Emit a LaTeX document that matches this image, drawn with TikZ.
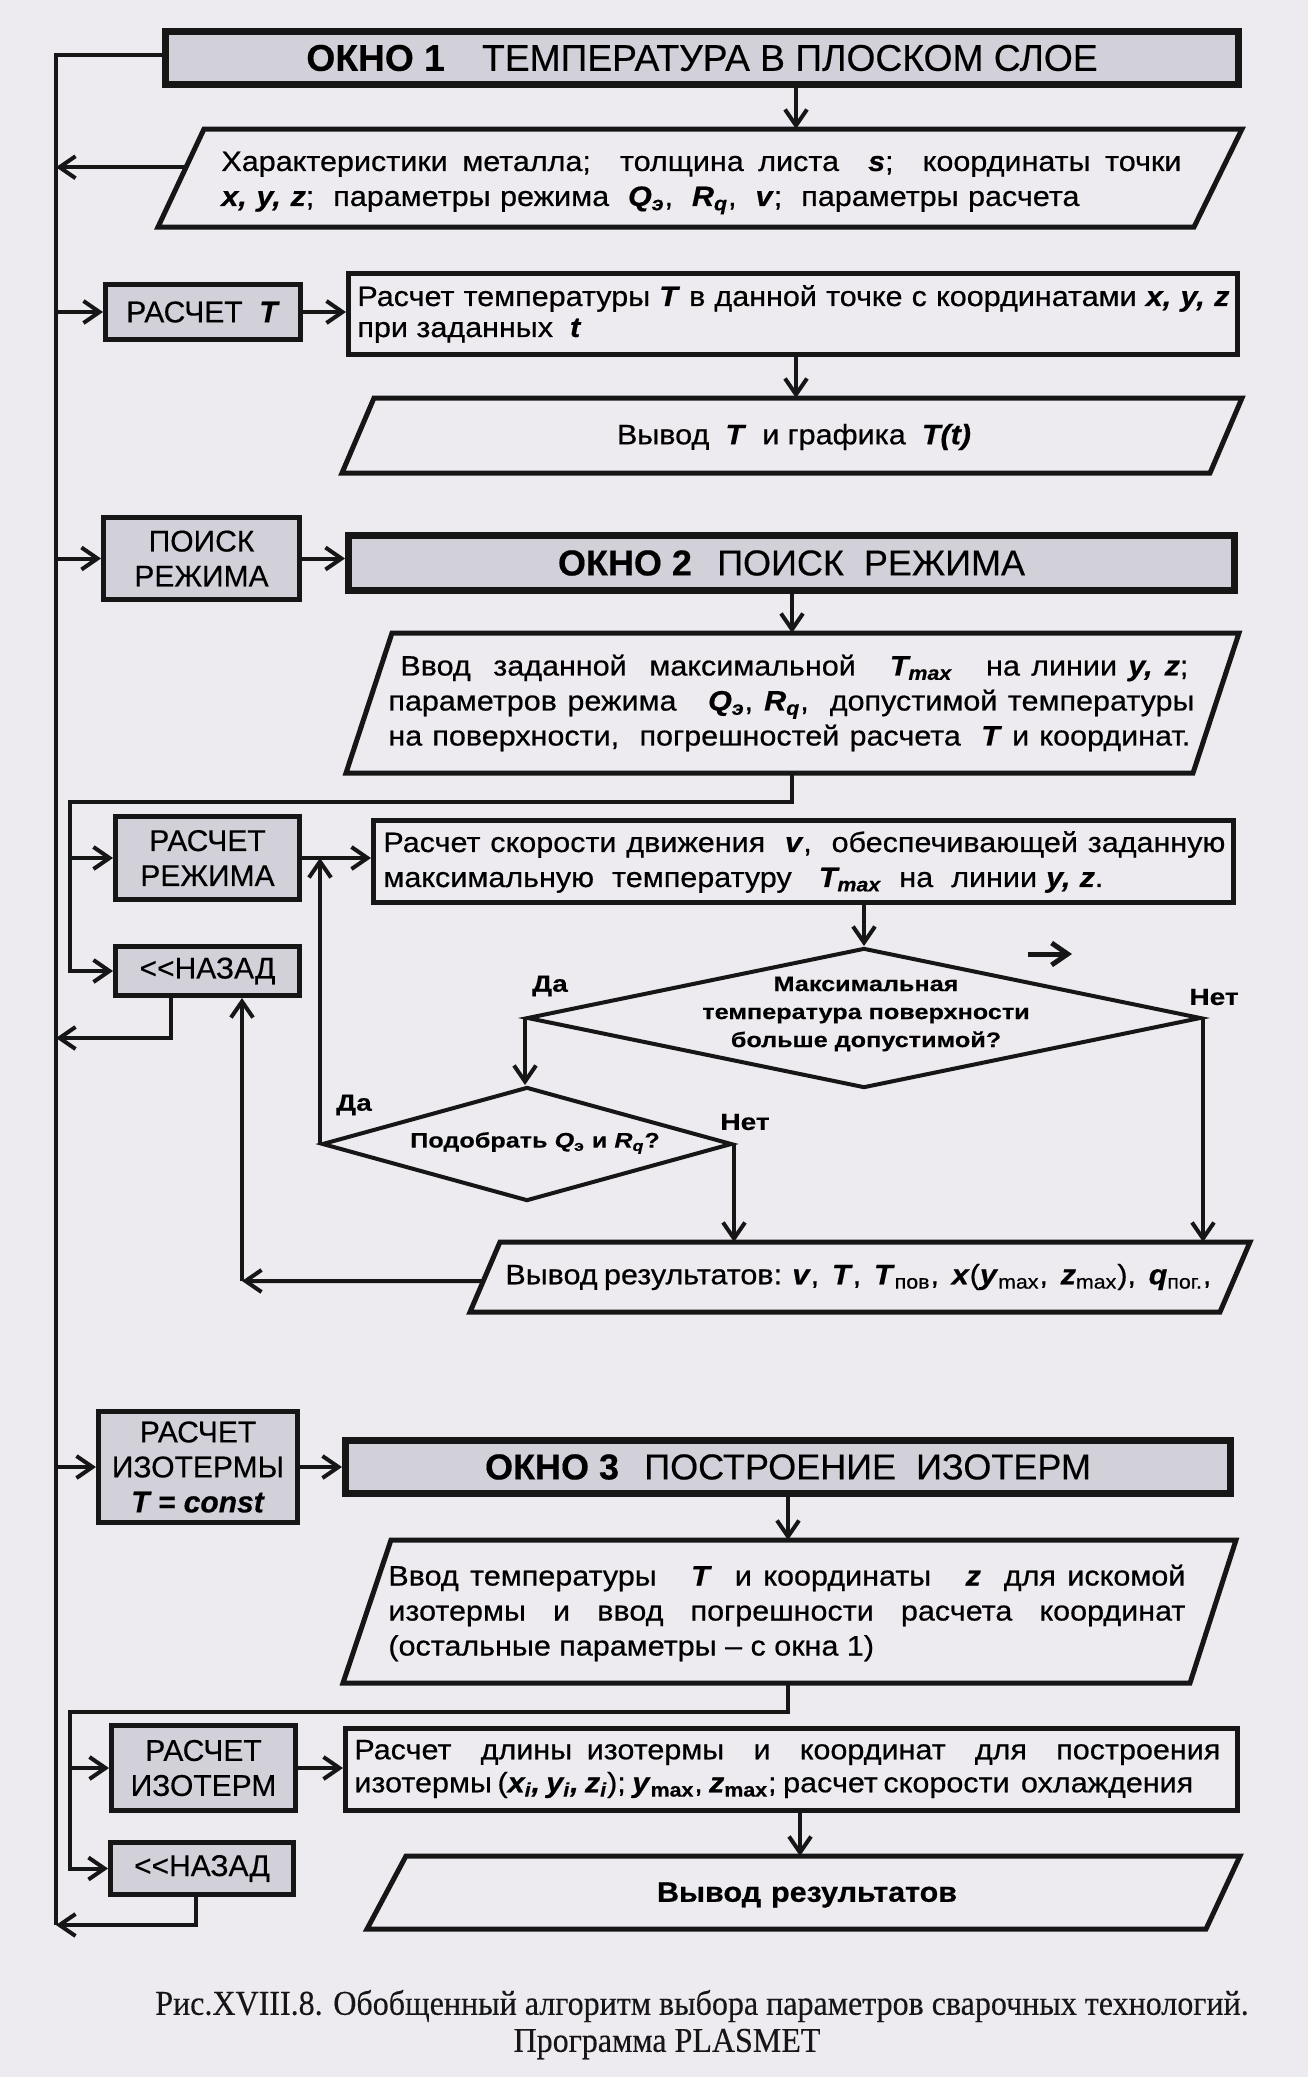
\documentclass[tikz,border=0pt]{standalone}
\usepackage{fontspec}
\setmainfont{Liberation Sans}[FakeBold=0.4]
\newfontfamily\bodyfont{Liberation Sans}[FakeStretch=1.09, FakeBold=0.6, Ligatures=TeX]
\newfontfamily\diafont{Liberation Sans}[FakeStretch=1.2, FakeBold=0.3]
\newfontfamily\capfont{Liberation Serif}[FakeStretch=0.92, FakeBold=0.3]
\usetikzlibrary{arrows.meta,shapes.geometric,calc}
\definecolor{bg}{RGB}{237,235,240}
\definecolor{shade}{RGB}{210,208,216}
\definecolor{ink}{RGB}{22,22,22}
\newcommand{\bv}[1]{\textbf{\textit{#1}}}
\newcommand{\jl}[2]{\makebox[#1][s]{#2}}
\tikzset{
  conn/.style={draw=ink, line width=2pt},
  arr/.style={conn, -{Straight Barb[length=8pt,width=11pt]}},
  okno/.style={draw=ink, line width=3.5pt, fill=shade, inner sep=0pt, font=\fontsize{18}{21}\selectfont},
  gbox/.style={draw=ink, line width=2.5pt, fill=shade, inner sep=0pt, align=center, font=\fontsize{15}{17.5}\selectfont},
  wbox/.style={draw=ink, line width=2.5pt, inner sep=0pt},
  pbox/.style={draw=ink, line width=2.5pt, line join=miter},
  body/.style={inner sep=0pt, align=left, font=\bodyfont\fontsize{14}{17.5}\selectfont},
  dia/.style={draw=ink, line width=2pt, shape=diamond, inner sep=0pt},
  diatext/.style={inner sep=0pt, align=center, font=\diafont\bfseries\fontsize{10.5}{14}\selectfont},
  lab/.style={inner sep=0pt, font=\diafont\bfseries\fontsize{11.7}{14}\selectfont},
  captext/.style={inner sep=0pt, text=ink, font=\capfont\fontsize{17.4}{20}\selectfont},
}
\begin{document}
\begin{tikzpicture}[x=0.5pt,y=-0.5pt]
\fill[bg] (0,0) rectangle (1308,2077);
\useasboundingbox (0,0) rectangle (1308,2077);

% ---------- main left line
\coordinate (m0) at (56,55);
\coordinate (mbot) at (56,1925);

% ---------- window 1
\node[okno, minimum width=536.5pt, minimum height=26.5pt, font=\fontsize{18.6}{21}\selectfont] (ok1) at (702,58) {\textbf{ОКНО 1}\hspace{1em}ТЕМПЕРАТУРА В ПЛОСКОМ СЛОЕ};
\draw[conn] (m0 -| ok1.west) -- (m0) -- (mbot);

% parallelogram 1
\coordinate (p1a) at (204,129); \coordinate (p1b) at (1242,129);
\coordinate (p1c) at (1194,227); \coordinate (p1d) at (158,227);
\draw[pbox] (p1a) -- (p1b) -- (p1c) -- (p1d) -- cycle;
\node[body, anchor=west] (p1t) at (221,183) {\jl{480pt}{Характеристики металла;\ \ толщина листа\ \ \bv{s};\ \ координаты точки}\\
\jl{429pt}{\bv{x, y, z};\ \ параметры режима\ \ \bv{Q\textsubscript{э}},\ \ \bv{R\textsubscript{q}},\ \ \bv{v};\ \ параметры расчета}};
\coordinate (p1n) at (796,129);
\draw[arr] (ok1.south -| p1n) -- (p1n);
\coordinate (p1w) at ($(p1a)!0.39!(p1d)$);
\draw[arr] (p1w) -- (p1w -| m0);

% РАСЧЕТ T
\node[gbox, minimum width=97.5pt, minimum height=27.5pt] (rt) at (203,312) {РАСЧЕТ\ \ \bv{T}};
\node[wbox, minimum width=444.5pt, minimum height=40.5pt] (r1) at (793,314) {};
\node[body, anchor=west, font=\bodyfont\fontsize{14}{15.5}\selectfont] (r1t) at (357,314) {\jl{436pt}{Расчет температуры \bv{T} в данной точке с координатами \bv{x, y, z}}\\при заданных\ \ \bv{t}};
\draw[arr] (rt.west -| m0) -- (rt.west);
\draw[arr] (rt.east) -- (rt.east -| r1.west);

% Вывод T
\coordinate (pTa) at (374,398); \coordinate (pTb) at (1242,398);
\coordinate (pTc) at (1210,473); \coordinate (pTd) at (342,473);
\draw[pbox] (pTa) -- (pTb) -- (pTc) -- (pTd) -- cycle;
\node[body] (pTt) at (794,437) {\jl{177pt}{Вывод\ \ \bv{T}\ \ и графика\ \ \bv{T(t)}}};
\coordinate (pTn) at (796,398);
\draw[arr] (r1.south -| pTn) -- (pTn);

% ---------- window 2
\node[gbox, minimum width=98pt, minimum height=41pt] (pr) at (201.5,558.5) {ПОИСК\\РЕЖИМА};
\node[okno, minimum width=443pt, minimum height=27.5pt] (ok2) at (791.5,563) {\textbf{ОКНО 2}\hspace{0.7em}ПОИСК\ \ РЕЖИМА};
\draw[arr] (pr.west -| m0) -- (pr.west);
\draw[arr] (pr.east) -- (pr.east -| ok2.west);

\coordinate (p2a) at (392,633); \coordinate (p2b) at (1239,633);
\coordinate (p2c) at (1193,773); \coordinate (p2d) at (346,773);
\draw[pbox] (p2a) -- (p2b) -- (p2c) -- (p2d) -- cycle;
\node[body, anchor=west] (p2t) at (388,703) {\hspace*{6pt}\jl{394pt}{Ввод\ \ заданной\ \ максимальной\ \ \ \bv{T\textsubscript{max}}\ \ \ на линии \bv{y, z};}\\
\jl{403pt}{параметров режима\ \ \ \bv{Q\textsubscript{э}}, \bv{R\textsubscript{q}},\ \ допустимой температуры}\\
\jl{401pt}{на поверхности,\ \ погрешностей расчета\ \ \bv{T} и координат.}};
\coordinate (p2n) at (792,633);
\draw[arr] (ok2.south -| p2n) -- (p2n);

% loop 1
\coordinate (p2s) at (792,773);
\coordinate (j1) at (792,802);
\coordinate (s1) at (70,802);
\node[gbox, minimum width=92pt, minimum height=41.5pt] (rr) at (207.5,858) {РАСЧЕТ\\РЕЖИМА};
\node[gbox, minimum width=92pt, minimum height=24.5pt] (nz1) at (207.5,971) {<\kern0pt<НАЗАД};
\draw[arr] (p2s) -- (j1) -- (s1) |- (nz1.west);
\draw[arr] (s1 |- rr.west) -- (rr.west);

\node[wbox, minimum width=430pt, minimum height=41pt] (r2) at (803.5,861.5) {};
\node[body, anchor=west] (r2t) at (383,862) {\jl{421pt}{Расчет скорости движения\ \ \bv{v},\ \ обеспечивающей заданную}\\
\jl{360pt}{максимальную\ \ температуру\ \ \ \bv{T\textsubscript{max}}\ \ на\ \ линии \bv{y, z}.}};
\draw[arr] (rr.east) -- (rr.east -| r2.west);

% diamonds
\node[dia, minimum width=337pt, minimum height=70pt] (d1) at (864,1018) {};
\node[diatext] (d1t) at (866,1014) {Максимальная\\температура поверхности\\больше допустимой?};
\node[dia, minimum width=205pt, minimum height=57pt] (d2) at (527,1144) {};
\node[diatext] (d2t) at (535,1143) {Подобрать \textit{Q}\textsubscript{э} и \textit{R\textsubscript{q}}?};
\draw[arr] (r2.south -| d1.north) -- (d1.north);
\draw[arr] (d1.west) -- (d1.west |- d2.north);

\node[lab] (da1) at (550,986) {Да};
\node[lab] (net1) at (1214,997) {Нет};
\node[lab] (da2) at (354,1105) {Да};
\node[lab] (net2) at (745,1122) {Нет};
\coordinate (sa1) at (1028,954); \coordinate (sa2) at (1072,954);
\draw[arr, line width=2.5pt] (sa1) -- (sa2);

% output 3
\coordinate (p3a) at (500,1242); \coordinate (p3b) at (1250,1242);
\coordinate (p3c) at (1220,1312); \coordinate (p3d) at (470,1312);
\draw[pbox] (p3a) -- (p3b) -- (p3c) -- (p3d) -- cycle;
\node[body, anchor=west] (p3t) at (505,1277) {\jl{353pt}{Вывод результатов: \bv{v},\ \ \bv{T},\ \ \bv{T}\textsubscript{пов},\ \ \bv{x}(\bv{y}\textsubscript{max},\ \ \bv{z}\textsubscript{max}),\ \ \bv{q}\textsubscript{пог.},}};
\draw[arr] (d1.east) -- (d1.east |- p3a);
\draw[arr] (d2.east) -- (d2.east |- p3a);
\draw[arr] (d2.west) -- (d2.west |- rr.east);
\coordinate (p3w) at ($(p3a)!0.557!(p3d)$);
\coordinate (k1) at (242,1281);
\draw[arr] (p3w) -- (k1);
\draw[arr] (k1) -- (k1 |- nz1.south);
\coordinate (n1b) at (171,1038);
\draw[arr] (n1b |- nz1.south) -- (n1b) -- (n1b -| m0);

% ---------- window 3
\node[gbox, minimum width=99.5pt, minimum height=55.5pt] (ri) at (198,1467) {РАСЧЕТ\\ИЗОТЕРМЫ\\\bv{T = const}};
\node[okno, minimum width=442.5pt, minimum height=26.5pt] (ok3) at (788,1467) {\textbf{ОКНО 3}\hspace{0.7em}ПОСТРОЕНИЕ\ \ ИЗОТЕРМ};
\draw[arr] (ri.west -| m0) -- (ri.west);
\draw[arr] (ri.east) -- (ri.east -| ok3.west);

\coordinate (p4a) at (391,1540); \coordinate (p4b) at (1236,1540);
\coordinate (p4c) at (1190,1683); \coordinate (p4d) at (343,1683);
\draw[pbox] (p4a) -- (p4b) -- (p4c) -- (p4d) -- cycle;
\node[body, anchor=west] (p4t) at (388,1613) {\jl{398.5pt}{Ввод температуры\ \ \ \bv{T}\ \ и координаты\ \ \ \bv{z}\ \ для искомой}\\
\jl{398.5pt}{изотермы\ \ и\ \ ввод\ \ погрешности\ \ расчета\ \ координат}\\
(остальные параметры – с окна 1)};
\coordinate (p4n) at (788,1540);
\draw[arr] (ok3.south -| p4n) -- (p4n);

% loop 2
\coordinate (p4s) at (788,1683);
\coordinate (j2) at (788,1712);
\coordinate (s2) at (70,1712);
\node[gbox, minimum width=92pt, minimum height=42.5pt] (rz) at (203.5,1768) {РАСЧЕТ\\ИЗОТЕРМ};
\node[gbox, minimum width=91.5pt, minimum height=26pt] (nz2) at (202,1868.5) {<\kern0pt<НАЗАД};
\draw[arr] (p4s) -- (j2) -- (s2) |- (nz2.west);
\draw[arr] (s2 |- rz.west) -- (rz.west);

\node[wbox, minimum width=446pt, minimum height=41pt] (r3) at (791.5,1769.5) {};
\node[body, anchor=west, font=\bodyfont\fontsize{14}{16.5}\selectfont] (r3t) at (354,1769) {\jl{433pt}{Расчет\ \ длины изотермы\ \ и\ \ координат\ \ для\ \ построения}\\
\jl{409pt}{изотермы (\bv{x\textsubscript{i}, y\textsubscript{i}, z\textsubscript{i}}); \bv{y}\textsubscript{\textbf{max}}, \bv{z}\textsubscript{\textbf{max}}; расчет скорости\ \ охлаждения}};
\draw[arr] (rz.east) -- (rz.east -| r3.west);

\coordinate (p5a) at (406,1856); \coordinate (p5b) at (1240,1856);
\coordinate (p5c) at (1206,1929); \coordinate (p5d) at (367,1929);
\draw[pbox] (p5a) -- (p5b) -- (p5c) -- (p5d) -- cycle;
\node[body] (p5t) at (807,1895) {\jl{150pt}{\textbf{Вывод результатов}}};
\coordinate (p5n) at (800,1856);
\draw[arr] (r3.south -| p5n) -- (p5n);

\coordinate (n2b) at (196,1925);
\draw[arr] (n2b |- nz2.south) -- (n2b) -- (mbot);

% caption
\node[captext] (cap1) at (702,2006) {Рис.XVIII.8. Обобщенный алгоритм выбора параметров сварочных технологий.};
\node[captext] (cap2) at (667,2044) {Программа PLASMET};
\end{tikzpicture}
\end{document}
